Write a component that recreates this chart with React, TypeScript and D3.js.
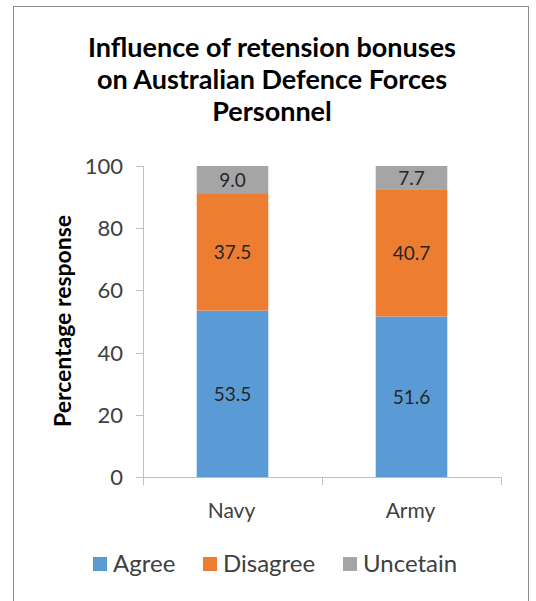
import React from "react";
import * as d3 from "d3";

const categories = ["Navy", "Army"];
const seriesNames = ["Agree", "Disagree", "Uncetain"];
const agree = [53.5, 51.6];
const disagree = [37.5, 40.7];
const uncertain = [9.0, 7.7];
const yTicks = [0, 20, 40, 60, 80, 100];
const colors = ["#5B9BD5", "#ED7D31", "#A5A5A5"];
const titleLines = [
  "Influence of retension bonuses",
  "on Australian Defence Forces",
  "Personnel",
];

const W = 536;
const H = 601;
const FONT = "Lato, 'Open Sans', sans-serif";

export default function App() {
  const x0 = 143;
  const x1 = 501;
  const yTop = 166;
  const yBot = 477;
  const x = d3.scaleBand<string>().domain(categories).range([x0, x1]).padding(0);
  const y = d3.scaleLinear().domain([0, 100]).range([yBot, yTop]);
  const barW = x.bandwidth() * 0.4;

  const rows = categories.map((c, i) => ({
    cat: c,
    Agree: agree[i],
    Disagree: disagree[i],
    Uncetain: uncertain[i],
  }));
  const stack = d3.stack<any>().keys(seriesNames)(rows);

  const axisColor = "#BFBFBF";
  const textColor = "#404040";

  return (
    <svg width={W} height={H} style={{ position: "absolute", left: 0, top: 0 }} fontFamily={FONT}>
      <rect x={0} y={0} width={W} height={H} fill="#fff" />
      <rect x={13.5} y={6.5} width={515} height={620} fill="none" stroke="#8C8C8C" strokeWidth={1} />
      {titleLines.map((t, i) => (
        <text key={i} x={272} y={57 + i * 32} textAnchor="middle" fontSize={27} fontWeight={700} fill="#000">
          {t}
        </text>
      ))}
      {/* y axis */}
      <line x1={x0 + 0.5} x2={x0 + 0.5} y1={yTop} y2={yBot} stroke={axisColor} />
      {yTicks.map((t) => (
        <g key={t}>
          <line x1={x0 - 7} x2={x0} y1={Math.round(y(t)) + 0.5} y2={Math.round(y(t)) + 0.5} stroke={axisColor} />
          <text x={123} y={y(t)} dy="0.36em" textAnchor="end" fontSize={22} fill={textColor}>
            {t}
          </text>
        </g>
      ))}
      <text
        transform={`translate(71, ${321}) rotate(-90)`}
        textAnchor="middle"
        fontSize={22}
        fontWeight={700}
        fill="#000"
        textLength={212}
        lengthAdjust="spacingAndGlyphs"
      >
        Percentage response
      </text>
      {/* bars */}
      {stack.map((s, si) =>
        s.map((d, i) => {
          const cx = (x(categories[i]) as number) + x.bandwidth() / 2;
          const yt = y(d[1]);
          const yb = y(d[0]);
          return (
            <g key={`${si}-${i}`}>
              <rect x={cx - barW / 2} y={yt} width={barW} height={yb - yt} fill={colors[si]} />
              <text x={cx} y={(yt + yb) / 2} dy="0.36em" textAnchor="middle" fontSize={19} fill="#262626">
                {(d[1] - d[0]).toFixed(1)}
              </text>
            </g>
          );
        })
      )}
      {/* x axis */}
      <line x1={x0} x2={x1} y1={yBot + 0.5} y2={yBot + 0.5} stroke={axisColor} />
      {[x0, ...categories.map((c) => (x(c) as number) + x.bandwidth())].map((tx, i) => (
        <line key={i} x1={Math.round(tx) + 0.5} x2={Math.round(tx) + 0.5} y1={yBot} y2={yBot + 8} stroke={axisColor} />
      ))}
      {categories.map((c) => (
        <text key={c} x={(x(c) as number) + x.bandwidth() / 2 - 1} y={518} textAnchor="middle" fontSize={21} fill={textColor}>
          {c}
        </text>
      ))}
      {/* legend */}
      {seriesNames.map((n, i) => {
        const lx = [93, 203, 343][i];
        return (
          <g key={n}>
            <rect x={lx} y={557} width={14} height={14} fill={colors[i]} />
            <text x={lx + 20} y={572} fontSize={24} fill={textColor}>
              {n}
            </text>
          </g>
        );
      })}
    </svg>
  );
}
